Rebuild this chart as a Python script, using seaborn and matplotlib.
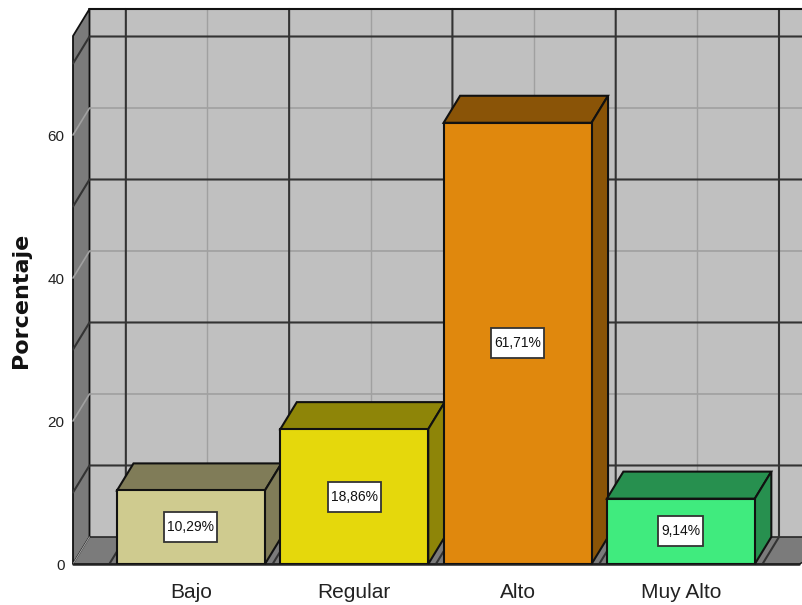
import matplotlib
matplotlib.use("Agg")
import matplotlib.pyplot as plt
from matplotlib.patches import Rectangle
import seaborn as sns

categories = ["Bajo", "Regular", "Alto", "Muy Alto"]
percentages = [10.29, 18.86, 61.71, 9.14]
value_labels = ["10,29%", "18,86%", "61,71%", "9,14%"]
front_colors = ["#CFCB8F", "#E5D80C", "#E0880D", "#40EB7E"]
shade_colors = ["#807C58", "#8E8508", "#8A5407", "#27904F"]
y_ticks = [0, 20, 40, 60]
dark_levels = [10, 30, 50, 70]
light_levels = [20, 40, 60]

W, H = 803, 605
sns.set_theme(style="white")
plt.rcParams["font.family"] = ["Liberation Sans"]

fig = plt.figure(figsize=(W / 100, H / 100), dpi=100, facecolor="white")
ax = fig.add_axes([73 / W, (H - 564) / H, (W - 73) / W, 528 / H])

# Oblique projection of the depth axis, in data units
DX, DY = 0.101, 3.78
YMAX = 73.85
XMIN, XMAX = -0.7226, 3.748
DARK, LIGHT = "#333333", "#A0A0A0"

sns.barplot(x=categories, y=percentages, hue=categories, palette=front_colors,
            width=0.906, edgecolor="#111111", linewidth=1.5, saturation=1,
            legend=False, ax=ax, zorder=5)
ax.set_xlim(XMIN, XMAX)
ax.set_ylim(0, YMAX)
ax.patch.set_visible(False)
for side in ax.spines.values():
    side.set_visible(False)

# Room: back wall, side wall and floor
right = XMAX + 0.3
ax.fill([XMIN + DX, right, right, XMIN + DX], [DY, DY, YMAX + DY, YMAX + DY],
        color="#C0C0C0", lw=0, zorder=0.5, clip_on=False)
ax.fill([XMIN, XMIN + DX, XMIN + DX, XMIN], [0, DY, YMAX + DY, YMAX],
        facecolor="#7B7B7B", edgecolor="#111111", lw=1.3, zorder=1, clip_on=False)
ax.fill([XMIN, XMIN + DX, right, 3.726], [0, DY, DY, 0],
        facecolor="#7B7B7B", edgecolor="#111111", lw=1.0, zorder=1, clip_on=False)
ax.plot([XMIN + DX, right], [YMAX + DY] * 2, color="#111111", lw=1.5, zorder=2, clip_on=False)
ax.plot([XMIN, 3.726], [0, 0], color="#222222", lw=1.8, zorder=2, clip_on=False)

# Gridlines wrapped around side wall and back wall
for levels, color, lw in [(light_levels, LIGHT, 1.2), (dark_levels, DARK, 1.5)]:
    for v in levels:
        ax.plot([XMIN, XMIN + DX, right], [v, v + DY, v + DY], color=color, lw=lw,
                zorder=1.5, clip_on=False)

# Category lines running over the floor and up the back wall
for i in range(len(categories)):
    ax.plot([i + DX] * 2, [DY, YMAX + DY], color=LIGHT, lw=1.0, zorder=1.2, clip_on=False)
for i in range(len(categories) + 1):
    x = i - 0.5
    ax.plot([x, x + DX, x + DX], [0, DY, YMAX + DY], color=DARK, lw=1.5, zorder=1.6, clip_on=False)
ax.plot([XMIN, XMIN + DX], [0, DY], color=LIGHT, lw=0.8, zorder=1.7)

# Extruded top and side of each bar, with its boxed value label
half = 0.906 / 2
renderer = fig.canvas.get_renderer()
to_data = ax.transData.inverted()
for i, v in enumerate(percentages):
    ax.fill([i - half, i - half + DX, i + half + DX, i + half],
            [v, v + DY, v + DY, v], facecolor=shade_colors[i], edgecolor="#111111",
            lw=1.5, zorder=4, clip_on=False)
    ax.fill([i + half, i + half + DX, i + half + DX, i + half],
            [0, DY, v + DY, v], facecolor=shade_colors[i], edgecolor="#111111",
            lw=1.5, zorder=4, clip_on=False)
    label = ax.text(i, v / 2, value_labels[i], ha="center", va="center", fontsize=10,
                    color="#111111", zorder=7)
    box = label.get_window_extent(renderer)
    x0, y0 = to_data.transform((box.x0 - 3, box.y0))
    x1, y1 = to_data.transform((box.x1 + 3, box.y0 + 30))
    ax.add_patch(Rectangle((x0, v / 2 - (y1 - y0) / 2), x1 - x0, y1 - y0, facecolor="white",
                           edgecolor="#333333", linewidth=1.3, zorder=6))

ax.set_yticks(y_ticks)
ax.set_yticklabels([str(t) for t in y_ticks], fontsize=11, color="#222222")
ax.set_xticks(range(len(categories)))
ax.set_xticklabels(categories, fontsize=15, color="#222222")
ax.tick_params(axis="both", length=0)
ax.tick_params(axis="y", pad=6)
ax.tick_params(axis="x", pad=14)
ax.set_xlabel("")
ax.set_ylabel("Porcentaje", fontsize=16, fontweight="bold", color="#111111",
              family="DejaVu Sans")
ax.yaxis.set_label_coords(-42 / (W - 73), (564 - 300) / 528)

fig.savefig("out.png", dpi=100, facecolor="white")
